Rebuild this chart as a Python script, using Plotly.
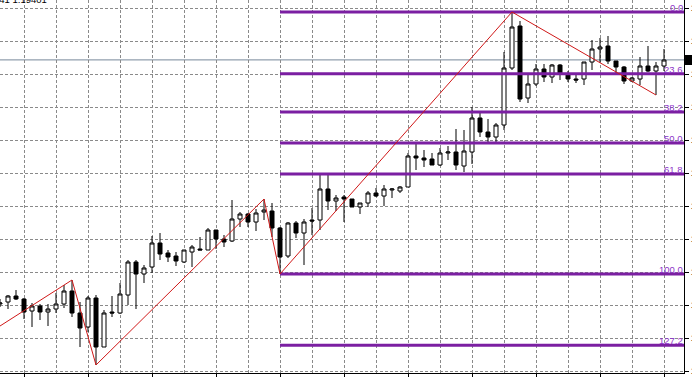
import plotly.graph_objects as go

# ---- candle data (EURUSD) ----
open_ = [1.1696, 1.1698, 1.1704, 1.1701, 1.1689, 1.1694, 1.1688, 1.1691, 1.1696, 1.1709,
         1.1687, 1.1673, 1.1702, 1.1653, 1.1688, 1.1687, 1.1705, 1.1738, 1.1726, 1.1733,
         1.1757, 1.1747, 1.1744, 1.1738, 1.1748, 1.1751, 1.1750, 1.1770, 1.1761, 1.1759,
         1.1781, 1.1786, 1.1778, 1.1788, 1.1789, 1.1772, 1.1744, 1.1777, 1.1767, 1.1780,
         1.1780, 1.1811, 1.1799, 1.1803, 1.1801, 1.1793, 1.1797, 1.1807, 1.1804, 1.1810,
         1.1809, 1.1813, 1.1844, 1.1842, 1.1841, 1.1835, 1.1847, 1.1848, 1.1834, 1.1848,
         1.1882, 1.1868, 1.1863, 1.1875, 1.1932, 1.1974, 1.1902, 1.1916, 1.1931, 1.1923,
         1.1935, 1.1926, 1.1921, 1.1921, 1.1938, 1.1951, 1.1954, 1.1939, 1.1933, 1.1919,
         1.1921, 1.1934, 1.1929, 1.1934]
high = [1.1701, 1.1705, 1.1710, 1.1702, 1.1697, 1.1696, 1.1696, 1.1707, 1.1715, 1.1720,
        1.1698, 1.1704, 1.1705, 1.1690, 1.1704, 1.1717, 1.1740, 1.1740, 1.1735, 1.1764,
        1.1767, 1.1750, 1.1748, 1.1750, 1.1755, 1.1763, 1.1772, 1.1770, 1.1765, 1.1800,
        1.1788, 1.1787, 1.1791, 1.1801, 1.1797, 1.1773, 1.1778, 1.1779, 1.1781, 1.1792,
        1.1825, 1.1825, 1.1805, 1.1805, 1.1801, 1.1797, 1.1809, 1.1812, 1.1815, 1.1812,
        1.1814, 1.1847, 1.1856, 1.1850, 1.1847, 1.1852, 1.1854, 1.1871, 1.1870, 1.1893,
        1.1887, 1.1881, 1.1877, 1.1948, 1.1988, 1.1979, 1.1925, 1.1936, 1.1936, 1.1936,
        1.1936, 1.1929, 1.1926, 1.1938, 1.1960, 1.1962, 1.1964, 1.1939, 1.1934, 1.1923,
        1.1943, 1.1954, 1.1938, 1.1951]
low = [1.1693, 1.1691, 1.1700, 1.1681, 1.1673, 1.1680, 1.1674, 1.1687, 1.1692, 1.1683,
       1.1653, 1.1668, 1.1635, 1.1653, 1.1683, 1.1686, 1.1695, 1.1691, 1.1717, 1.1727,
       1.1740, 1.1738, 1.1734, 1.1737, 1.1733, 1.1750, 1.1750, 1.1751, 1.1753, 1.1758,
       1.1773, 1.1773, 1.1769, 1.1780, 1.1763, 1.1726, 1.1742, 1.1762, 1.1735, 1.1765,
       1.1770, 1.1790, 1.1789, 1.1778, 1.1793, 1.1786, 1.1793, 1.1803, 1.1794, 1.1802,
       1.1807, 1.1813, 1.1830, 1.1833, 1.1835, 1.1834, 1.1840, 1.1830, 1.1828, 1.1836,
       1.1863, 1.1858, 1.1858, 1.1870, 1.1930, 1.1898, 1.1897, 1.1914, 1.1918, 1.1917,
       1.1920, 1.1918, 1.1917, 1.1915, 1.1930, 1.1938, 1.1936, 1.1925, 1.1916, 1.1918,
       1.1915, 1.1928, 1.1905, 1.1929]
close = [1.1697, 1.1704, 1.1701, 1.1688, 1.1694, 1.1688, 1.1691, 1.1696, 1.1709, 1.1687,
         1.1672, 1.1702, 1.1653, 1.1687, 1.1687, 1.1706, 1.1738, 1.1726, 1.1732, 1.1757,
         1.1746, 1.1743, 1.1739, 1.1750, 1.1753, 1.1750, 1.1770, 1.1761, 1.1758, 1.1781,
         1.1786, 1.1778, 1.1787, 1.1790, 1.1772, 1.1743, 1.1777, 1.1767, 1.1778, 1.1779,
         1.1811, 1.1799, 1.1802, 1.1801, 1.1793, 1.1797, 1.1807, 1.1804, 1.1811, 1.1811,
         1.1813, 1.1844, 1.1842, 1.1840, 1.1835, 1.1847, 1.1848, 1.1835, 1.1849, 1.1882,
         1.1868, 1.1863, 1.1875, 1.1932, 1.1973, 1.1901, 1.1916, 1.1931, 1.1923, 1.1935,
         1.1926, 1.1921, 1.1920, 1.1938, 1.1951, 1.1953, 1.1939, 1.1933, 1.1919, 1.1922,
         1.1934, 1.1929, 1.1934, 1.1940]
bars = list(range(len(open_)))

# ---- ZigZag pivots ----
zigzag_bar = [0, 9, 12, 33, 35, 64, 82]
zigzag_price = [1.1674, 1.1720, 1.1635, 1.1801, 1.1726, 1.1988, 1.1905]

# ---- Fibonacci retracement ----
fib_start_bar = 35
fib_low = 1.1726
fib_high = 1.1988
fib_levels = [0.0, 23.6, 38.2, 50.0, 61.8, 100.0, 127.2]
fib_labels = ["0.0", "23.6", "38.2", "50.0", "61.8", "100.0", "127.2"]

bid_price = 1.19401
header_text = "941 1.19401"

# ---- axes ----
x_range = [0, 85.5]
y_range = [1.1627, 1.2000]
y_grid_start = 1.1992
y_grid_step = 0.0033

GRID = "#8a8a8a"
FIB = "#7B1FA2"
FIB_TXT = "#8E35C8"
ZZ = "#D01818"

fig = go.Figure()

fig.add_trace(go.Candlestick(
    x=bars, open=open_, high=high, low=low, close=close,
    increasing=dict(line=dict(color="black", width=1), fillcolor="white"),
    decreasing=dict(line=dict(color="black", width=1), fillcolor="black"),
    whiskerwidth=0, showlegend=False, hoverinfo="skip",
))

rng = fib_high - fib_low
for lvl in fib_levels:
    price = fib_high - lvl / 100.0 * rng
    fig.add_trace(go.Scatter(
        x=[fib_start_bar, x_range[1]], y=[price, price], mode="lines",
        line=dict(color=FIB, width=3), showlegend=False, hoverinfo="skip",
    ))

fig.add_trace(go.Scatter(
    x=zigzag_bar, y=zigzag_price, mode="lines",
    line=dict(color=ZZ, width=1), showlegend=False, hoverinfo="skip",
))

annotations = []
for lvl, lab in zip(fib_levels, fib_labels):
    price = fib_high - lvl / 100.0 * rng
    annotations.append(dict(
        x=1, xref="paper", y=price, yref="y", text=lab, showarrow=False,
        xanchor="right", yanchor="bottom", yshift=-2, borderpad=0,
        font=dict(family="Liberation Sans", size=9.5, color=FIB_TXT),
    ))
annotations.append(dict(
    x=48 / 684, xref="paper", y=1 - 6 / 373, yref="paper", text=header_text,
    showarrow=False, xanchor="right", yanchor="bottom", borderpad=0,
    font=dict(family="Liberation Sans", size=9.5, color="black"),
))

shapes = [
    dict(type="line", xref="paper", x0=0, x1=1, yref="y", y0=bid_price, y1=bid_price,
         line=dict(color="#778899", width=1), layer="below"),
    dict(type="rect", xref="paper", x0=1.0015, x1=1.2, yref="y",
         y0=bid_price - 0.0005, y1=bid_price + 0.0005,
         line=dict(width=0), fillcolor="black", layer="above"),
]

fig.update_layout(
    width=692, height=377,
    margin=dict(l=0, r=8, t=0, b=4, pad=0),
    paper_bgcolor="white", plot_bgcolor="white",
    boxgap=0.5, boxgroupgap=0,
    showlegend=False,
    annotations=annotations,
    shapes=shapes,
    xaxis=dict(
        range=x_range, tickmode="linear", tick0=3, dtick=8,
        showgrid=True, gridcolor=GRID, griddash="3px,2px", gridwidth=1,
        minor=dict(tick0=3, dtick=4, showgrid=True, gridcolor=GRID,
                   griddash="3px,2px", gridwidth=1, ticks=""),
        ticks="outside", ticklen=4, tickcolor="black", showticklabels=False,
        showline=True, linecolor="black", linewidth=1,
        zeroline=False, rangeslider=dict(visible=False), automargin=False,
    ),
    yaxis=dict(
        range=y_range, side="right", tickmode="linear", tick0=y_grid_start,
        dtick=y_grid_step, showgrid=True, gridcolor=GRID, griddash="3px,2px",
        gridwidth=1, ticks="outside", ticklen=4, tickcolor="black",
        tickformat=".5f", tickfont=dict(family="Liberation Sans", size=9, color="black"),
        showline=True, linecolor="black", linewidth=1, zeroline=False,
        automargin=False,
    ),
)

fig.write_html("out.html")
